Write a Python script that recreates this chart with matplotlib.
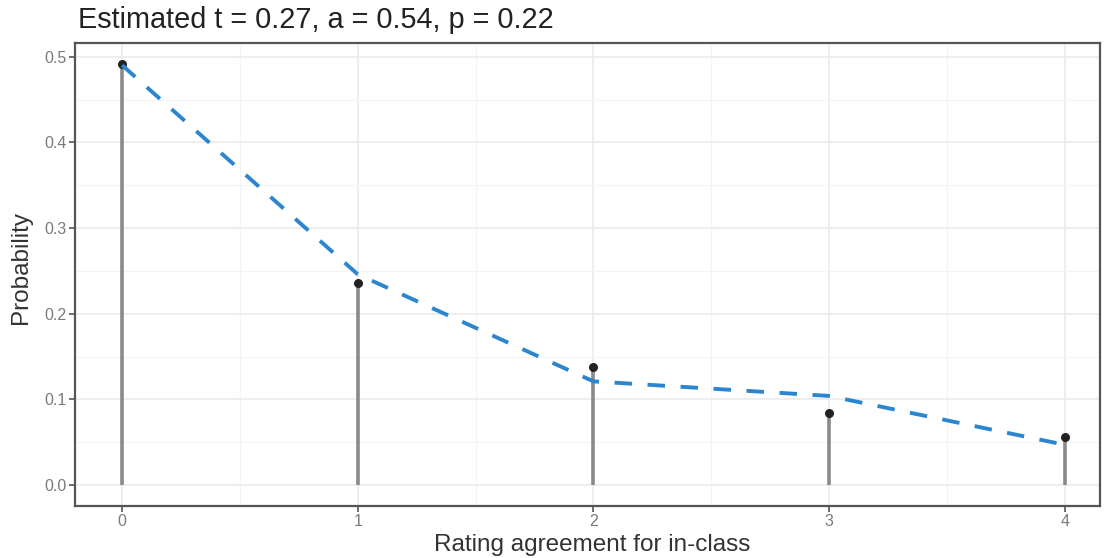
import numpy as np
import matplotlib.pyplot as plt
from matplotlib.ticker import MultipleLocator

plt.rcParams['font.family'] = ['Liberation Sans', 'DejaVu Sans']

# data
ratings = [0, 1, 2, 3, 4]
observed = [0.492, 0.236, 0.138, 0.084, 0.056]
estimated = [0.490, 0.246, 0.121, 0.104, 0.047]
title = "Estimated t = 0.27, a = 0.54, p = 0.22"

fig = plt.figure(figsize=(11.06, 5.58), dpi=100)
ax = fig.add_axes([75/1106, 1-506/558, 1025/1106, 463/558])

# stems
ax.vlines(ratings, 0, observed, color='#8a8a8a', lw=2.6, zorder=3)
ax.scatter(ratings, observed, s=30, color='#222222', zorder=4)
ax.plot(ratings, estimated, color='#2b86cf', lw=2.8, ls=(0, (4.5, 4)), zorder=5)

ax.set_xlim(-0.2, 4.15)
ax.set_ylim(-0.0245, 0.516)
ax.xaxis.set_major_locator(MultipleLocator(1))
ax.xaxis.set_minor_locator(MultipleLocator(0.5))
ax.yaxis.set_major_locator(MultipleLocator(0.1))
ax.yaxis.set_minor_locator(MultipleLocator(0.05))
ax.yaxis.set_major_formatter(plt.FuncFormatter(lambda v, p: f"{v:.1f}"))

ax.grid(which='major', color='#ebebeb', lw=1.2, zorder=0)
ax.grid(which='minor', color='#f4f4f4', lw=0.8, zorder=0)
ax.set_axisbelow(True)

for s in ax.spines.values():
    s.set_color('#555555')
    s.set_linewidth(1.6)

ax.tick_params(which='major', length=4, width=1.2, color='#555555', labelsize=11.5,
               labelcolor='#7a7a7a', pad=2)
ax.tick_params(which='minor', length=0)

ax.set_xlabel("Rating agreement for in-class", fontsize=17.5, color='#333333')
ax.xaxis.set_label_coords((592 - 75) / 1025, -(545 - 506) / 463)
ax.set_ylabel("Probability", fontsize=17.5, color='#333333')
ax.yaxis.set_label_coords((21 - 75) / 1025, (506 - 268) / 463)
ax.xaxis.label.set_va('center')
ax.yaxis.label.set_va('center')
fig.text(78/1106, 1-20/558, title, fontsize=20.8, color='#222222', va='center', ha='left')

fig.savefig("out.png", dpi=100)
